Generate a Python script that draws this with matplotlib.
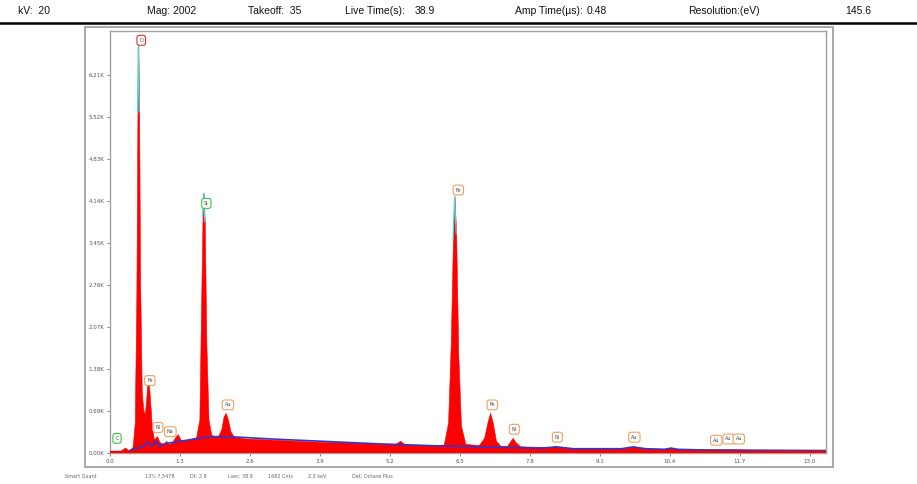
import matplotlib
matplotlib.use("Agg")
import numpy as np
import matplotlib.pyplot as plt
from matplotlib.patches import Rectangle
from matplotlib.lines import Line2D

W, H = 917, 484

# ---------------- data ----------------
header_labels = ["kV:  20", "Mag: 2002", "Takeoff:  35", "Live Time(s):", "Amp Time(µs):", "Resolution:(eV)"]
header_values = ["", "", "", "38.9", "0.48", "145.6"]

# spectrum outline: energy (keV), counts (K)
spec_e = [0.00, 0.10, 0.20, 0.28, 0.35, 0.42, 0.46, 0.49, 0.51, 0.525, 0.54, 0.56, 0.59, 0.62, 0.645,
          0.67, 0.69, 0.71, 0.73, 0.75, 0.78, 0.82, 0.87, 0.92, 1.00, 1.04, 1.09, 1.15, 1.21, 1.26, 1.31,
          1.40, 1.50, 1.60, 1.66, 1.69, 1.72, 1.74, 1.76, 1.79, 1.83, 1.88, 2.00, 2.07, 2.11, 2.15, 2.19,
          2.24, 2.30, 2.50, 3.00, 3.50, 4.00, 4.50, 5.00, 5.30, 5.39, 5.48, 6.00, 6.20, 6.28, 6.33, 6.37,
          6.40, 6.43, 6.47, 6.52, 6.60, 6.85, 6.95, 7.01, 7.06, 7.11, 7.17, 7.25, 7.38, 7.44, 7.48, 7.53,
          7.62, 8.00, 8.20, 8.27, 8.35, 9.00, 9.60, 9.72, 9.85, 10.30, 10.40, 10.50, 11.00, 11.45, 11.60,
          12.00, 13.30]
spec_c = [0.00, 0.02, 0.04, 0.09, 0.04, 0.10, 0.50, 2.60, 5.60, 6.85, 5.60, 2.80, 1.00, 0.70, 0.64,
          0.85, 1.10, 1.22, 1.05, 0.80, 0.40, 0.22, 0.28, 0.18, 0.14, 0.20, 0.15, 0.17, 0.26, 0.31, 0.22,
          0.21, 0.23, 0.26, 0.55, 2.30, 3.90, 4.27, 3.80, 1.80, 0.55, 0.30, 0.26, 0.40, 0.60, 0.66, 0.55,
          0.35, 0.27, 0.24, 0.22, 0.20, 0.18, 0.17, 0.15, 0.15, 0.20, 0.14, 0.13, 0.14, 0.50, 1.80, 3.50,
          4.22, 3.60, 1.60, 0.45, 0.15, 0.13, 0.25, 0.50, 0.66, 0.50, 0.20, 0.12, 0.12, 0.20, 0.25, 0.18,
          0.11, 0.10, 0.10, 0.12, 0.09, 0.08, 0.08, 0.11, 0.08, 0.07, 0.09, 0.07, 0.06, 0.06, 0.06,
          0.05, 0.05]

# fitted background (blue)
bg_e = [0.10, 0.30, 0.50, 0.60, 0.70, 0.76, 0.86, 0.92, 1.00, 1.20, 1.50, 1.80, 2.00, 2.40, 3.00,
        4.00, 5.00, 6.00, 7.00, 8.00, 8.30, 8.60, 9.50, 9.72, 9.95, 10.30, 10.42, 10.55, 11.00, 13.30]
bg_c = [0.00, 0.02, 0.08, 0.10, 0.18, 0.11, 0.20, 0.10, 0.15, 0.18, 0.22, 0.26, 0.27, 0.26, 0.23,
        0.19, 0.15, 0.12, 0.10, 0.08, 0.10, 0.07, 0.07, 0.10, 0.07, 0.06, 0.08, 0.06, 0.05, 0.04]

# element label boxes: text, energy, counts (K), edge colour
lab_text = ["C", "O", "Fe", "Ni", "Na", "Si", "Au", "Fe", "Fe", "Ni", "Ni", "Au", "Au", "Au", "Au"]
lab_e = [0.13, 0.58, 0.74, 0.89, 1.12, 1.79, 2.19, 6.47, 7.10, 7.51, 8.31, 9.74, 11.26, 11.49, 11.68]
lab_c = [0.24, 6.78, 1.19, 0.42, 0.35, 4.10, 0.79, 4.32, 0.79, 0.39, 0.26, 0.26, 0.21, 0.23, 0.23]
lab_col = ["#3cc43c", "#e03030", "#f0a060", "#f0a060", "#f0a060", "#3cc43c", "#f0a060", "#f0a060",
           "#f0a060", "#f0a060", "#f0a060", "#f0a060", "#f0a060", "#f0a060", "#f0a060"]

x_ticks = [0.0, 1.3, 2.6, 3.9, 5.2, 6.5, 7.8, 9.1, 10.4, 11.7, 13.0]
y_ticks = [0.00, 0.69, 1.38, 2.07, 2.76, 3.45, 4.14, 4.83, 5.52, 6.21]
y_tick_labels = ["0.00K", "0.69K", "1.38K", "2.07K", "2.76K", "3.45K", "4.14K", "4.83K", "5.52K", "6.21K"]

status_text = ["Smart Quant", "13% 7,5478", "Dt: 2.8", "Lsec: 38.9", "1682 Cnts", "2.3 keV", "Det: Octane Plus"]
status_x = [65, 145, 190, 228, 268, 308, 352]

# ---------------- figure ----------------
fig = plt.figure(figsize=(W / 100, H / 100), dpi=100)
fig.patch.set_facecolor("white")
hfont = ["Liberation Sans Narrow", "Liberation Sans", "DejaVu Sans"]

def fx(px):
    return px / W

def fy(py):
    return 1 - py / H

# header
hx = [18, 147, 248, 345, 515, 688]
vx = [0, 0, 0, 415, 587, 845]
for t, x in zip(header_labels, hx):
    fig.text(fx(x), fy(11), t, fontsize=7.5, family=hfont, va="center", ha="left", color="#111111")
for t, x in zip(header_values, vx):
    if t:
        fig.text(fx(x), fy(11), t, fontsize=7.5, family=hfont, va="center", ha="left", color="#111111")
fig.add_artist(Line2D([0, 1], [fy(23), fy(23)], transform=fig.transFigure, color="black", lw=1.8))

# outer frame
fig.add_artist(Rectangle((fx(85), fy(467)), fx(833) - fx(85), fy(27) - fy(467),
                         transform=fig.transFigure, fill=False, edgecolor="#9a9a9a", lw=1.2))

# plot axes
ax = fig.add_axes([fx(110), fy(453), fx(826) - fx(110), fy(31) - fy(453)])
ax.set_xlim(0, 13.3)
ax.set_ylim(0, (453 - 31) / 42 * 0.69)
ax.fill_between(spec_e, spec_c, 0, color="#ff0000", lw=0.4, edgecolor="#ff0000", zorder=2)
tip = np.ma.masked_where(np.array(spec_c) < 3.5, np.array(spec_c))
ax.plot(spec_e, tip, color="#40e0e0", lw=0.8, zorder=3)
ax.plot(bg_e, bg_c, color="#3535c8", lw=1.2, zorder=4)
ax.axhline(0.02, color="#ff0000", lw=2.5, zorder=4)

for t, e, c, col in zip(lab_text, lab_e, lab_c, lab_col):
    ax.text(e, c, t, fontsize=3.5, ha="center", va="center", color="#444444", zorder=6,
            bbox=dict(boxstyle="round,pad=0.5", fc="white", ec=col, lw=0.8))

ax.set_xticks(x_ticks)
ax.set_xticklabels([f"{v:.1f}" for v in x_ticks])
ax.set_yticks(y_ticks)
ax.set_yticklabels(y_tick_labels)
ax.tick_params(axis="both", labelsize=4, colors="#555555", length=2, width=0.5, pad=2)
for s in ax.spines.values():
    s.set_color("#a0a0a0")
    s.set_linewidth(1.0)

# status line
for t, x in zip(status_text, status_x):
    fig.text(fx(x), fy(476), t, fontsize=3.5, color="#666666", va="center", ha="left")

fig.savefig("out.png", dpi=100, facecolor="white")
